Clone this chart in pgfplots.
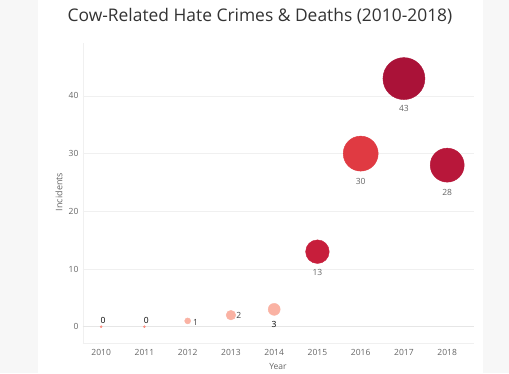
\documentclass[border=0pt]{standalone}
\usepackage{fontspec}
\setmainfont{Open Sans}
\usepackage{pgfplots}
\pgfplotsset{compat=1.18}
\definecolor{bg}{HTML}{F7F7F7}
\definecolor{gridc}{HTML}{F0F0F0}
\definecolor{zeroc}{HTML}{E6E6E6}
\definecolor{tickc}{HTML}{666666}
\definecolor{salmon}{HTML}{FAB2A3}
\definecolor{red15}{HTML}{C71E3B}
\definecolor{red16}{HTML}{E03A42}
\definecolor{red17}{HTML}{AA1238}
\definecolor{red18}{HTML}{B8173A}
\begin{document}
\begin{tikzpicture}[x=1pt,y=1pt]
\useasboundingbox (0,0) rectangle (509,373);
\fill[bg] (0,0) rectangle (509,373);
\fill[white] (38,0) rectangle (483,373);
\node[text=black!80, font=\fontsize{17.4}{20}\selectfont] at (260,357) {Cow-Related Hate Crimes \& Deaths (2010-2018)};
\node[rotate=90, text=tickc, font=\fontsize{9}{10}\selectfont] at (59,181) {Incidents};
\node[text=tickc, font=\fontsize{8.5}{10}\selectfont, anchor=north, inner sep=1pt] at (278,11) {Year};
\begin{axis}[
  at={(83pt,30pt)}, anchor=south west,
  scale only axis, width=391pt, height=300pt,
  xmin=2009.58, xmax=2018.62, ymin=-2.83, ymax=49.17,
  xtick={2010,...,2018}, ytick={0,10,20,30,40},
  xticklabel style={/pgf/number format/1000 sep={}},
  ticklabel style={text=tickc, font=\fontsize{8.5}{10}\selectfont},
  /pgf/number format/assume math mode=true,
  major tick length=0pt,
  axis x line*=bottom, axis y line*=left,
  axis line style={gridc, -},
  ymajorgrids, major grid style={gridc, line width=0.8pt},
  clip=false,
  xticklabel style={yshift=-3pt},
  yticklabel style={xshift=-1pt},
]
\draw[zeroc, line width=1.5pt] (axis cs:2009.58,0) -- (axis cs:2018.62,0);
\addplot[only marks, mark=*, mark size=1pt, salmon!80!red, nodes near coords, every node near coord/.style={anchor=south, font=\fontsize{8.5}{10}\selectfont, text=black, xshift=2pt, yshift=0pt}] coordinates {(2010,0) (2011,0)};
\addplot[only marks, mark=*, mark size=3pt, salmon, nodes near coords, every node near coord/.style={anchor=west, font=\fontsize{8.5}{10}\selectfont, text=black!75, xshift=2pt, yshift=-1.5pt}] coordinates {(2012,1)};
\addplot[only marks, mark=*, mark size=4.8pt, salmon, nodes near coords, every node near coord/.style={anchor=west, font=\fontsize{8.5}{10}\selectfont, text=black!75, xshift=2pt, yshift=-0.5pt}] coordinates {(2013,2)};
\addplot[only marks, mark=*, mark size=6pt, salmon, nodes near coords, every node near coord/.style={anchor=north, font=\fontsize{8.5}{10}\selectfont, text=black, yshift=-8pt}] coordinates {(2014,3)};
\addplot[only marks, mark=*, mark size=11.8pt, red15, nodes near coords, every node near coord/.style={anchor=north, font=\fontsize{8.5}{10}\selectfont, text=tickc, yshift=-14pt}] coordinates {(2015,13)};
\addplot[only marks, mark=*, mark size=17.5pt, red16, nodes near coords, every node near coord/.style={anchor=north, font=\fontsize{8.5}{10}\selectfont, text=tickc, yshift=-21pt}] coordinates {(2016,30)};
\addplot[only marks, mark=*, mark size=21pt, red17, nodes near coords, every node near coord/.style={anchor=north, font=\fontsize{8.5}{10}\selectfont, text=tickc, yshift=-23pt}] coordinates {(2017,43)};
\addplot[only marks, mark=*, mark size=17pt, red18, nodes near coords, every node near coord/.style={anchor=north, font=\fontsize{8.5}{10}\selectfont, text=tickc, yshift=-21pt}] coordinates {(2018,28)};
\end{axis}
\end{tikzpicture}
\end{document}
